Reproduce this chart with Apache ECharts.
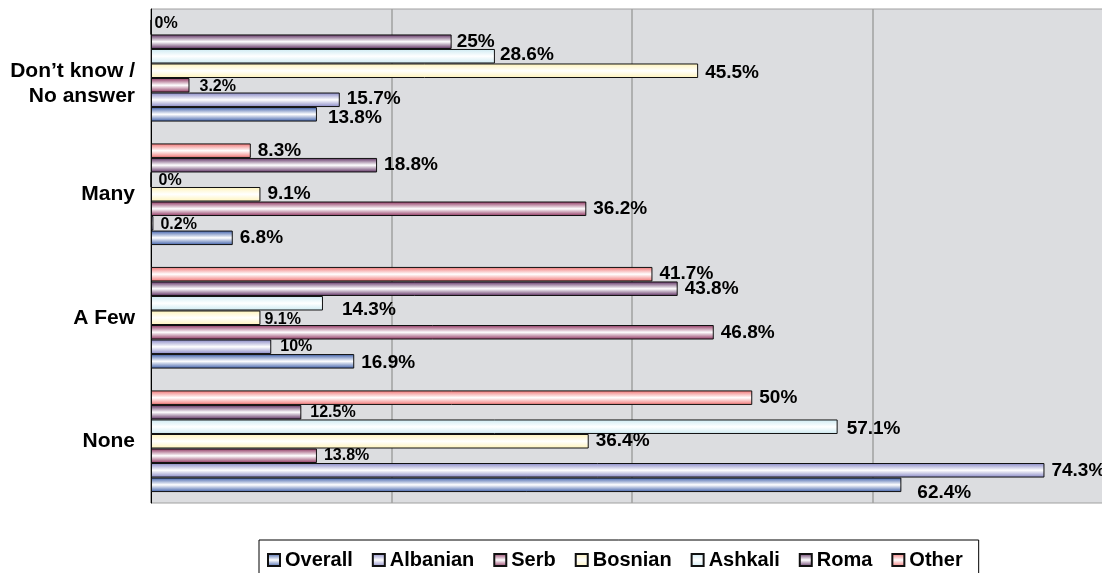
<!DOCTYPE html>
<html>
<head>
<meta charset="utf-8">
<script src="https://cdn.jsdelivr.net/npm/echarts@6/dist/echarts.min.js"></script>
<style>
  html, body { margin: 0; background: #fff; }
  #chart { width: 1102px; height: 573px; }
</style>
</head>
<body>
<div id="chart"></div>
<script>
// categories bottom -> top, as the y axis draws them
const categories = ['None', 'A Few', 'Many', 'Don’t know /\nNo answer']
const seriesNames = ['Overall', 'Albanian', 'Serb', 'Bosnian', 'Ashkali', 'Roma', 'Other']

const overall = [62.4, 16.9, 6.8, 13.8]
const albanian = [74.3, 10, 0.2, 15.7]
const serb = [13.8, 46.8, 36.2, 3.2]
const bosnian = [36.4, 9.1, 9.1, 45.5]
const ashkali = [57.1, 14.3, 0, 28.6]
const roma = [12.5, 43.8, 18.8, 25]
const other = [50, 41.7, 8.3, 0]

const xMin = 0
const xMax = 80
const xStep = 20

const values = { Overall: overall, Albanian: albanian, Serb: serb, Bosnian: bosnian, Ashkali: ashkali, Roma: roma, Other: other }
const colors = {
  Overall: '#3a5ca8',
  Albanian: '#8484c4',
  Serb: '#8c2f5c',
  Bosnian: '#fff3b8',
  Ashkali: '#cdeaf2',
  Roma: '#5a2a5e',
  Other: '#f07070',
}
const FONT = '"Liberation Sans", Arial, sans-serif'

// label nudges copied from how the original places a few of its labels
const labelTweaks = {
  'Other|3': { dx: -4, dy: -4, small: true },
  'Roma|3': { dx: -2 },
  'Ashkali|3': { dx: -2, dy: -1 },
  'Bosnian|3': { dy: 2 },
  'Serb|3': { dx: 3, dy: 1, small: true },
  'Albanian|3': { dy: -1 },
  'Overall|3': { dx: 4, dy: 3 },
  'Ashkali|2': { dy: 1, small: true },
  'Albanian|2': { dy: 1, small: true },
  'Ashkali|1': { dx: 12, dy: 7 },
  'Bosnian|1': { dx: -3, dy: 2, small: true },
  'Albanian|1': { dx: 2, small: true },
  'Overall|1': { dy: 1 },
  'Roma|0': { dx: 2, small: true },
  'Ashkali|0': { dx: 2, dy: 2 },
  'Serb|0': { small: true },
  'Overall|0': { dx: 9, dy: 8 },
}

function grad(c) {
  return new echarts.graphic.LinearGradient(0, 0, 0, 1, [
    { offset: 0, color: c },
    { offset: 0.5, color: '#ffffff' },
    { offset: 1, color: c },
  ])
}

function item(v, name, j) {
  const t = labelTweaks[name + '|' + j]
  if (!t) return v
  return {
    value: v,
    label: { offset: [t.dx || 0, t.dy || 0], fontSize: t.small ? 16 : 19 },
  }
}

// ECharts puts the first series at the top of each band, the original has Overall at the bottom
const series = seriesNames.slice().reverse().map((name) => ({
  name,
  type: 'bar',
  data: values[name].map((v, j) => item(v, name, j)),
  barGap: '0%',
  barCategoryGap: '17.7%',
  itemStyle: { color: grad(colors[name]), borderColor: '#111', borderWidth: 1 },
  label: {
    show: true,
    position: 'right',
    distance: 7,
    formatter: '{c}%',
    color: '#000',
    fontFamily: FONT,
    fontWeight: 'bold',
    fontSize: 19,
  },
}))

const chart = echarts.init(document.getElementById('chart'))
chart.setOption({
  animation: false,
  backgroundColor: '#ffffff',
  grid: {
    left: 151,
    width: 962, // plot runs past the right edge of the picture, to 80%
    top: 9,
    bottom: 70,
    outerBoundsMode: 'none',
    show: true,
    backgroundColor: '#dcdde0',
    borderColor: '#a0a0a0',
    borderWidth: 1,
  },
  legend: {
    data: seriesNames,
    left: 259,
    top: 540,
    padding: [10, 16, 20, 8],
    itemGap: 19,
    itemWidth: 12,
    itemHeight: 12,
    icon: 'rect',
    borderColor: '#000',
    borderWidth: 1,
    textStyle: { fontFamily: FONT, fontWeight: 'bold', fontSize: 20, color: '#000' },
  },
  xAxis: {
    type: 'value',
    min: xMin,
    max: xMax,
    interval: xStep,
    axisLine: { show: false },
    axisTick: { show: false },
    axisLabel: { show: false },
    splitLine: { lineStyle: { color: '#a0a0a0', width: 1.5 } },
  },
  yAxis: {
    type: 'category',
    data: categories,
    axisLine: { lineStyle: { color: '#000', width: 1 } },
    axisTick: { length: 7, lineStyle: { color: '#000' } },
    axisLabel: {
      color: '#000',
      fontFamily: FONT,
      fontWeight: 'bold',
      fontSize: 21,
      lineHeight: 25,
      margin: 16,
      align: 'right',
      // the two-line label sits a little below its band centre in the original
      formatter: (v) => (v.includes('\n') ? '\n' + v : v),
    },
    splitLine: { show: false },
  },
  series,
})
</script>
</body>
</html>
